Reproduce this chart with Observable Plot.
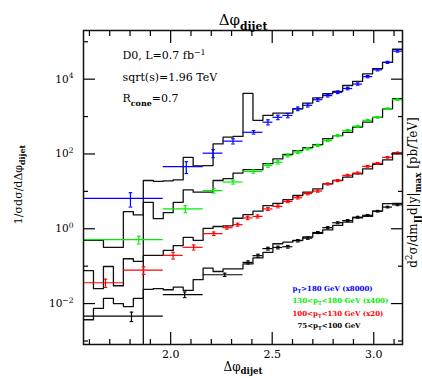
<!DOCTYPE html>
<html><head><meta charset="utf-8">
<script src="https://cdn.jsdelivr.net/npm/d3@7"></script>
<script src="https://cdn.jsdelivr.net/npm/@observablehq/plot@0.6"></script>
<style>
body{margin:0;background:#fff}
svg{font-family:"DejaVu Serif",serif;overflow:visible}
</style>
</head><body><div id="chart"></div>
<script>
// ---- bin edges of the theory histograms (π/64 bins from π/2 to π)
const theoryEdges = [1.5708,1.6199,1.6690,1.7181,1.7671,1.8162,1.8653,1.9144,1.9635,2.0126,2.0617,2.1108,2.1598,2.2089,2.2580,2.3071,2.3562,2.4053,2.4544,2.5035,2.5525,2.6016,2.6507,2.6998,2.7489,2.7980,2.8471,2.8962,2.9452,2.9943,3.0434,3.0925,3.1416];

// ---- theory step values per pT range (already scaled)
const thBlue  = [0,0,0,0,0,0,19.5,18.6,19.1,20.4,81,48,49,186,282,295,4170,794,1070,1230,1230,1620,2290,3160,4070,4680,6760,8710,13800,19100,28200,63000];
const thGreen = [0.49,0.49,0.32,0.32,2.88,2.34,5.1,1.86,2.69,5.1,11.0,9.5,9.5,19.5,21.9,30.9,38,38,55,74,98,123,148,178,257,309,380,525,708,955,1620,3020];
const thRed   = [0.076,0.025,0.098,0.030,0.158,0.135,0.195,0.195,0.263,0.355,0.589,0.49,1.02,1.15,1.2,1.91,2.4,2.95,4.17,4.79,6.03,7.76,9.55,11.7,15.8,19.5,24.0,29.5,39.8,52.5,69.2,107];
const thBlack = [0.0037,0.0074,0.0138,0.0100,0.0083,0.0138,0.0240,0.0251,0.0234,0.0275,0.0224,0.0437,0.089,0.072,0.085,0.085,0.115,0.166,0.234,0.398,0.437,0.490,0.603,0.759,0.933,1.23,1.51,1.95,2.14,2.95,4.68,4.79];

// ---- measured points: wide bins [xlo, xhi, x, y, err]
const blueWide  = [[1.5708,1.9635,1.802,6.5,2.7],[1.9635,2.1598,2.077,46,16],[2.1598,2.2580,2.209,105,25],[2.2580,2.3562,2.307,220,35],[2.3562,2.4544,2.408,380,40]];
const greenWide = [[1.5708,1.9635,1.843,0.51,0.12],[1.9635,2.1598,2.072,3.4,0.7],[2.1598,2.2580,2.212,10.5,1.5],[2.2580,2.3562,2.307,17.8,2.2],[2.3562,2.4544,2.407,34,3.5]];
const redWide   = [[1.5708,1.7671,1.679,0.036,0.009],[1.7671,1.9635,1.867,0.078,0.018],[1.9635,2.0617,2.012,0.195,0.04],[2.0617,2.1598,2.113,0.32,0.05],[2.1598,2.2580,2.212,0.74,0.08],[2.2580,2.3071,2.277,1.07,0.1],[2.3071,2.3562,2.330,1.29,0.12],[2.3562,2.4053,2.379,1.95,0.2],[2.4053,2.4544,2.428,2.14,0.2]];
const blackWide = [[1.5708,1.9635,1.807,0.0046,0.0013],[1.9635,2.1598,2.069,0.0174,0.003],[2.1598,2.3562,2.266,0.059,0.006]];

// ---- measured points in the π/64 bins near π: first bin index, values, errors
const blueFineStart = 18;
const blueFine    = [708,955,1070,1620,2000,2820,3630,4470,5620,7410,11700,17800,28200,56200];
const blueFineErr = [110,130,140,180,200,260,300,350,420,520,800,1200,1800,3500];
const greenFineStart = 18;
const greenFine    = [49,60,91,112,138,170,229,309,427,550,794,955,1620,2820];
const greenFineErr = [5,6,8,9,10,12,15,20,25,30,40,50,80,140];
const redFineStart = 18;
const redFine    = [3.39,3.98,5.37,6.76,8.71,10.2,15.8,19.5,26.9,30.9,46.8,56.2,81.3,107];
const redFineErr = [0.3,0.35,0.4,0.5,0.6,0.7,1.0,1.2,1.6,1.8,2.5,3,4,5];
const blackFineStart = 16;
const blackFine    = [0.126,0.191,0.295,0.316,0.331,0.479,0.562,0.794,1.07,1.45,1.66,2.04,2.29,2.95,3.80,4.37];
const blackFineErr = [0.012,0.017,0.025,0.026,0.027,0.035,0.04,0.05,0.065,0.085,0.095,0.11,0.12,0.15,0.19,0.22];

// ---- text
const seriesColors = ["#0000ff","#00ee00","#ff0000","#000000"];
const legendLabels = ["p_{T}>180 GeV (x8000)","130<p_{T}<180 GeV (x400)","100<p_{T}<130 GeV (x20)","75<p_{T}<100 GeV"];
const infoLines = ["D0, L=0.7 fb^{−1}","sqrt(s)=1.96 TeV","R_{cone}=0.7"];
const xMajor = [2.0,2.5,3.0];
const xMinor = [1.6,1.7,1.8,1.9,2.1,2.2,2.3,2.4,2.6,2.7,2.8,2.9,3.1];
const yMajor = [1e-2,1,1e2,1e4];
const yMinor = [1e-3,1e-1,1e1,1e3,1e5];

// ---- build tables
function theoryRows(vals){
  return theoryEdges.map((e,k)=>({x:e, y: vals[Math.min(k,vals.length-1)] || 1e-12}));
}
function dataRows(wide, start, fine, err){
  const rows = wide.map(([xlo,xhi,x,y,e])=>({xlo,xhi,x,y,err:e}));
  fine.forEach((y,i)=>{
    const xlo = theoryEdges[start+i], xhi = theoryEdges[start+i+1];
    rows.push({xlo,xhi,x:(xlo+xhi)/2,y,err:err[i]});
  });
  return rows;
}
const theories = [thBlue,thGreen,thRed,thBlack].map(theoryRows);
const datasets = [
  dataRows(blueWide,blueFineStart,blueFine,blueFineErr),
  dataRows(greenWide,greenFineStart,greenFine,greenFineErr),
  dataRows(redWide,redFineStart,redFine,redFineErr),
  dataRows(blackWide,blackFineStart,blackFine,blackFineErr)
];

const capSymbol = {draw(ctx,size){const r=Math.sqrt(size/Math.PI);ctx.moveTo(-r,0);ctx.lineTo(r,0);}};

const marks = [];
theories.forEach(t=>marks.push(Plot.line(t,{x:"x",y:"y",curve:"step-after",stroke:"#111",strokeWidth:1.3,clip:true})));
datasets.forEach((d,i)=>{
  const c = seriesColors[i];
  marks.push(Plot.ruleY(d,{x1:"xlo",x2:"xhi",y:"y",stroke:c,strokeWidth:1.2,clip:true}));
  marks.push(Plot.ruleX(d,{x:"x",y1:r=>r.y-r.err,y2:r=>r.y+r.err,stroke:c,strokeWidth:1.2,clip:true}));
  marks.push(Plot.dot(d,{x:"x",y:r=>r.y-r.err,symbol:capSymbol,r:1.8,stroke:c,strokeWidth:1.1,fill:"none"}));
  marks.push(Plot.dot(d,{x:"x",y:r=>r.y+r.err,symbol:capSymbol,r:1.8,stroke:c,strokeWidth:1.1,fill:"none"}));
});

// axes (ticks inward on all four sides)
const blank = ()=>"";
marks.push(
  Plot.axisX(xMajor,{anchor:"bottom",tickSize:-12,tickFormat:blank,label:null,strokeWidth:1.2}),
  Plot.axisX(xMinor,{anchor:"bottom",tickSize:-5,tickFormat:blank,label:null,strokeWidth:1.2}),
  Plot.axisX(xMajor,{anchor:"top",tickSize:-12,tickFormat:blank,label:null,strokeWidth:1.2}),
  Plot.axisX(xMinor,{anchor:"top",tickSize:-5,tickFormat:blank,label:null,strokeWidth:1.2}),
  Plot.axisX(xMajor,{anchor:"bottom",tickSize:0,tickPadding:6,tickFormat:d=>d.toFixed(1),label:null,fontSize:11}),
  Plot.axisY(yMajor,{anchor:"left",tickSize:-12,tickFormat:blank,label:null,strokeWidth:1.2}),
  Plot.axisY(yMinor,{anchor:"left",tickSize:-5,tickFormat:blank,label:null,strokeWidth:1.2}),
  Plot.axisY(yMajor,{anchor:"right",tickSize:-12,tickFormat:blank,label:null,strokeWidth:1.2}),
  Plot.axisY(yMinor,{anchor:"right",tickSize:-5,tickFormat:blank,label:null,strokeWidth:1.2}),
  Plot.axisY(yMajor,{anchor:"left",tickSize:0,tickPadding:10,tickFormat:d=>"10^{"+String(Math.round(Math.log10(d))).replace("-","−")+"}",label:null,fontSize:10.5}),
  Plot.frame({stroke:"#111",strokeWidth:1.5})
);

// titles and labels
marks.push(
  Plot.text(["Δφ_{dijet}"],{text:d=>d,frameAnchor:"top",dy:-16,fontSize:15}),
  Plot.text(["Δφ_{dijet}"],{text:d=>d,frameAnchor:"bottom",dy:26,fontSize:12}),
  Plot.text(["1/σdσ/dΔφ_{dijet}"],{text:d=>d,frameAnchor:"left",textAnchor:"middle",dx:-65,dy:-3,rotate:-90,fontSize:11}),
  Plot.text(["d^{2}σ/dm_{JJ}d|y|_{max} [pb/TeV]"],{text:d=>d,frameAnchor:"right",textAnchor:"middle",dx:11,dy:5,rotate:-90,fontSize:12})
);
infoLines.forEach((s,i)=>marks.push(Plot.text([s],{text:d=>d,frameAnchor:"top-left",textAnchor:"start",dx:39,dy:21+i*21.5,fontSize:11})));
legendLabels.forEach((s,i)=>marks.push(Plot.text([s],{text:d=>d,frameAnchor:"bottom-left",textAnchor:"start",dx:i===3?214:209,dy:-54+i*12.5,fontSize:7,fontWeight:"bold",fill:seriesColors[i]})));

const svg = Plot.plot({
  width:422,height:378,
  marginLeft:83,marginRight:20,marginTop:30,marginBottom:34,
  x:{domain:[Math.PI/2,Math.PI]},
  y:{type:"log",domain:[8.05e-4,2.0e5]},
  style:{fontFamily:"DejaVu Serif",background:"#fff"},
  marks
});
document.getElementById("chart").appendChild(svg);

// rich text: _{...} subscripts and ^{...} superscripts
svg.querySelectorAll("text").forEach(t=>{
  const s = t.textContent;
  if(!/[_^]\{/.test(s)) return;
  const fs = parseFloat(getComputedStyle(t).fontSize)||10;
  while(t.firstChild) t.removeChild(t.firstChild);
  const re = /([_^])\{([^}]*)\}/g;
  let last=0, m, cur=0;
  const add=(str,kind)=>{
    if(!str) return;
    const ts = document.createElementNS("http://www.w3.org/2000/svg","tspan");
    let tgt=0;
    if(kind==="_"){tgt=0.3*fs;ts.setAttribute("font-size",(0.72*fs)+"px");ts.setAttribute("font-weight","bold");}
    else if(kind==="^"){tgt=-0.42*fs;ts.setAttribute("font-size",(0.72*fs)+"px");}
    if(tgt!==cur) ts.setAttribute("dy",(tgt-cur)+"px");
    cur=tgt;
    ts.textContent=str;
    t.appendChild(ts);
  };
  while((m=re.exec(s))){
    add(s.slice(last,m.index),"");
    add(m[2],m[1]);
    last=re.lastIndex;
  }
  add(s.slice(last),"");
});
</script>
</body></html>
